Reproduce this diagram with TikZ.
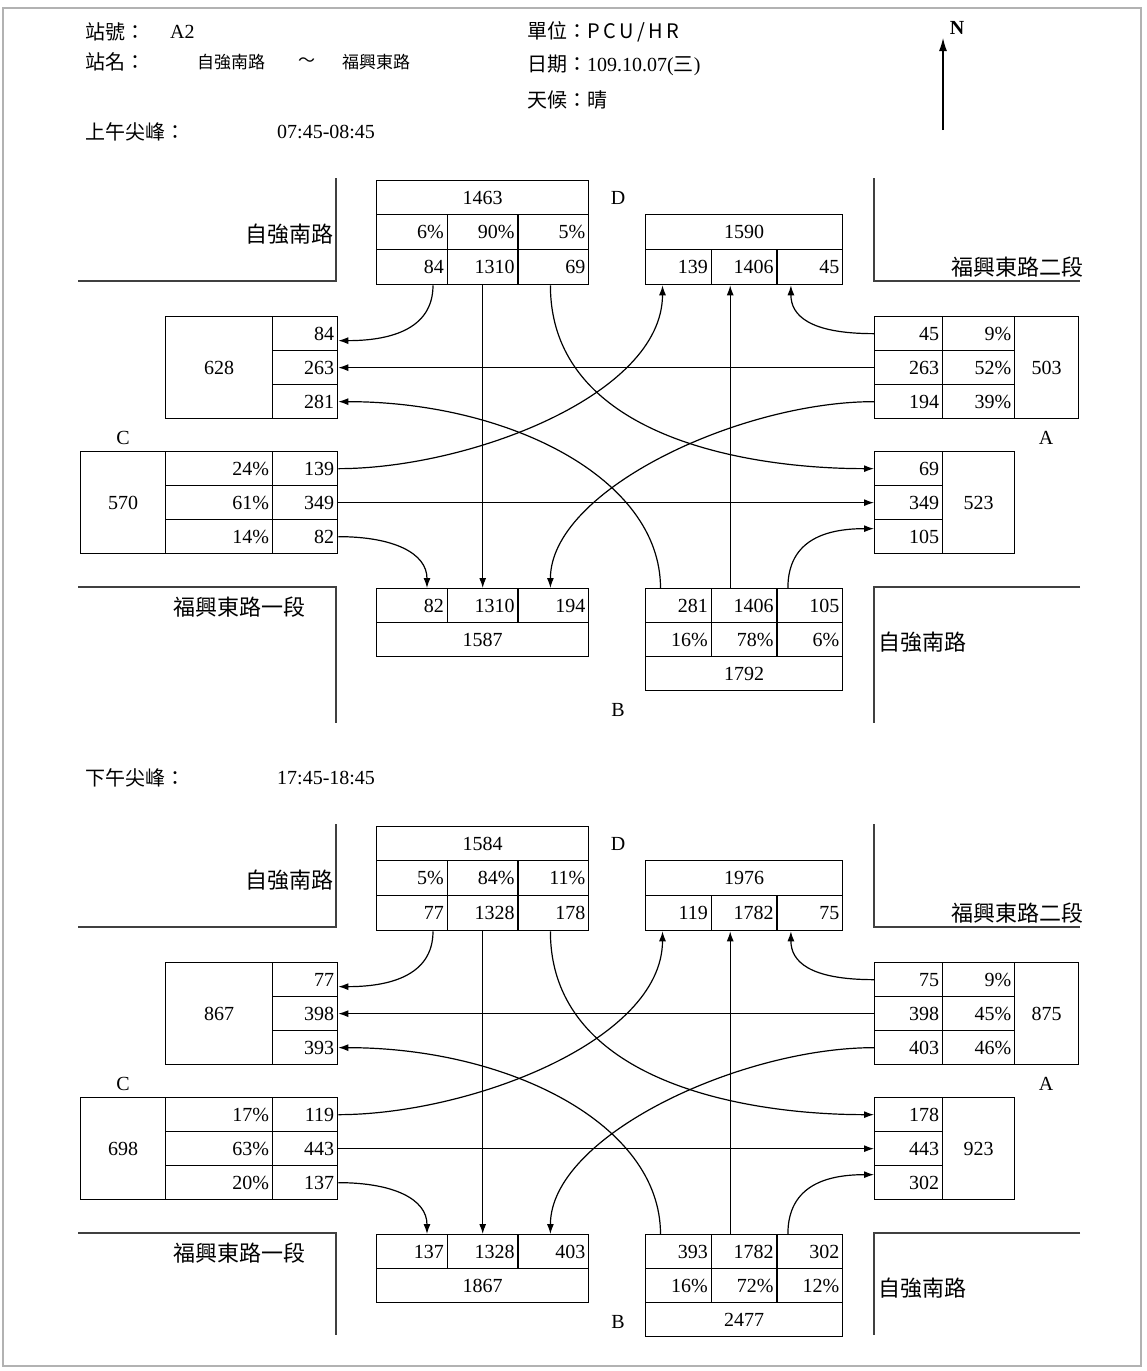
\documentclass[tikz,border=0pt]{standalone}
\usepackage{fontspec}
\setmainfont{Liberation Serif}
\newfontfamily\cjk{Noto Sans CJK TC}
\usetikzlibrary{arrows.meta,positioning}

\newcommand{\num}{\rmfamily\fontsize{20}{24}\selectfont}
\newcommand{\roadfont}{\cjk\fontsize{22}{26}\selectfont}
\newcommand{\headfont}{\cjk\fontsize{20}{24}\selectfont}
\newcommand{\smallcjk}{\cjk\fontsize{17}{20}\selectfont}

\tikzset{
  cell/.code 2 args={%
    \pgfmathsetmacro\cellw{#1-7}%
    \tikzset{draw, line width=1.3pt, inner sep=0pt, anchor=north west,
      minimum width=#1pt, minimum height=#2pt, text width=\cellw pt,
      align=right, font=\num}},
  tot/.style={align=center},
  flow/.style={line width=1.2pt, -{Latex[length=10pt,width=7pt]}},
  road/.style={line width=1.8pt, black!75},
  dir/.style={font=\num},
  head/.style={anchor=west, inner sep=0pt, font=\headfont},
}

% roads, approach letters and turning flows (same for both peaks)
% #1 = lower end of the south road lines, #2 = y of the B letter
\newcommand{\junctionlayout}[2]{%
  \draw[road] (336,178) -- (336,281) -- (78,281);
  \draw[road] (874,178) -- (874,281) -- (1080,281);
  \draw[road] (78,587) -- (336,587) -- (336,#1);
  \draw[road] (1080,587) -- (874,587) -- (874,#1);
  \node[font=\roadfont, anchor=east, inner sep=0pt] (rdn) at (334,234) {自強南路};
  \node[font=\roadfont, anchor=east, inner sep=0pt] (rde) at (1084,267) {福興東路二段};
  \node[font=\roadfont, anchor=east, inner sep=0pt] (rdw) at (306,607) {福興東路一段};
  \node[font=\roadfont, anchor=west, inner sep=0pt] (rds) at (878,642) {自強南路};
  \node[dir] (lD) at (618,198) {D};
  \node[dir] (lA) at (1046,438) {A};
  \node[dir] (lC) at (123,438) {C};
  \node[dir] (lB) at (618,#2) {B};
  % flows
  \draw[flow] ([xshift=21pt]dv1.south) .. controls +(0,45) and +(50,0) .. ([yshift=-7pt]wv1.east);
  \draw[flow] (dv2.south) -- (sv2.north);
  \draw[flow] ([xshift=-3pt]dv3.south) .. controls +(0,150) and +(-130,0) .. (ev1.west);
  \draw[flow] (av1.west) .. controls +(-65,0) and +(0,30) .. ([xshift=-19pt]nv3.south);
  \draw[flow] (av2.west) -- (wv2.east);
  \draw[flow] (av3.west) .. controls +(-134,0) and +(0,-98) .. ([xshift=-3pt]sv3.north);
  \draw[flow] (cv1.east) .. controls +(130,0) and +(0,110) .. ([xshift=-16pt]nv1.south);
  \draw[flow] (cv2.east) -- (ev2.west);
  \draw[flow] (cv3.east) .. controls +(55,0) and +(0,-35) .. ([xshift=15pt]sv1.north);
  \draw[flow] ([xshift=-18pt]bv1.north) .. controls +(0,-110) and +(170,0) .. (wv3.east);
  \draw[flow] ([xshift=-14pt]bv2.north) -- ([xshift=-14pt]nv2.south);
  \draw[flow] ([xshift=-22pt]bv3.north) .. controls +(0,-50) and +(-45,0) .. ([yshift=8pt]ev3.west);
}

\begin{document}
\begin{tikzpicture}[x=1pt, y=-1pt]
  \useasboundingbox (0,0) rectangle (1147,1371);
  \draw[gray!60, line width=1.5pt] (3,8) rectangle (1141,1366);

  % header
  \node[head] (stnno) at (85,32) {站號：};
  \node[anchor=west, inner sep=0pt, font=\num] (stnid) at (170,32) {A2};
  \node[head] (stnname) at (85,62) {站名：};
  \node[anchor=west, inner sep=0pt, font=\smallcjk] (rd1) at (197,62) {自強南路};
  \node[anchor=west, inner sep=0pt, font=\smallcjk] (tilde) at (298,62) {～};
  \node[anchor=west, inner sep=0pt, font=\smallcjk] (rd2) at (342,62) {福興東路};
  \node[head] (unit) at (527,32) {單位：P\,C\,U\,/\,H\,R};
  \node[head] (date) at (527,65) {日期：\num 109.10.07(\headfont 三\num )};
  \node[head] (weather) at (527,100) {天候：晴};
  \coordinate (nfoot) at (943,130);
  \coordinate (nhead) at (943,38);
  \draw[line width=1.2pt, -{Latex[length=13pt,width=8pt]}] (nfoot) -- (nhead);
  \node[font=\num\bfseries] (north) at (957,28) {N};

  \node[head] (amtitle) at (85,132) {上午尖峰：};
  \node[anchor=west, inner sep=0pt, font=\num] (amtime) at (277,132) {07:45-08:45};
  \node[head] (pmtitle) at (85,778) {下午尖峰：};
  \node[anchor=west, inner sep=0pt, font=\num] (pmtime) at (277,778) {17:45-18:45};

  % morning peak
  \begin{scope}[name prefix=am-]
    \node[cell={212}{34}, tot] (dtot) at (376,180) {1463};
    \foreach \p/\v [count=\k] in {6\%/84, 90\%/1310, 5\%/69} {
      \node[cell={70.7}{35}] (dp\k) at ({376+70.7*(\k-1)},214) {\p};
      \node[cell={70.7}{35}] (dv\k) at ({376+70.7*(\k-1)},249) {\v};
    }
    \node[cell={197}{35}, tot] (ntot) at (645,214) {1590};
    \foreach \v [count=\k] in {139, 1406, 45}
      \node[cell={65.7}{35}] (nv\k) at ({645+65.7*(\k-1)},249) {\v};
    \node[cell={107}{102}, tot] (wtot) at (165,316) {628};
    \foreach \v [count=\k] in {84, 263, 281}
      \node[cell={65}{34}] (wv\k) at (272,{316+34*(\k-1)}) {\v};
    \foreach \v/\p [count=\k] in {45/9\%, 263/52\%, 194/39\%} {
      \node[cell={68}{34}] (av\k) at (874,{316+34*(\k-1)}) {\v};
      \node[cell={72}{34}] (ap\k) at (942,{316+34*(\k-1)}) {\p};
    }
    \node[cell={64}{102}, tot] (atot) at (1014,316) {503};
    \node[cell={85}{102}, tot] (ctot) at (80,451) {570};
    \foreach \p/\v [count=\k] in {24\%/139, 61\%/349, 14\%/82} {
      \node[cell={107}{34}] (cp\k) at (165,{451+34*(\k-1)}) {\p};
      \node[cell={65}{34}] (cv\k) at (272,{451+34*(\k-1)}) {\v};
    }
    \foreach \v [count=\k] in {69, 349, 105}
      \node[cell={68}{34}] (ev\k) at (874,{451+34*(\k-1)}) {\v};
    \node[cell={72}{102}, tot] (etot) at (942,451) {523};
    \foreach \v [count=\k] in {82, 1310, 194}
      \node[cell={70.7}{34}] (sv\k) at ({376+70.7*(\k-1)},588) {\v};
    \node[cell={212}{34}, tot] (stot) at (376,622) {1587};
    \foreach \v/\p [count=\k] in {281/16\%, 1406/78\%, 105/6\%} {
      \node[cell={65.7}{34}] (bv\k) at ({645+65.7*(\k-1)},588) {\v};
      \node[cell={65.7}{34}] (bp\k) at ({645+65.7*(\k-1)},622) {\p};
    }
    \node[cell={197}{34}, tot] (btot) at (645,656) {1792};
    \junctionlayout{723}{710}
  \end{scope}

  % evening peak
  \begin{scope}[yshift=-646pt, name prefix=pm-]
    \node[cell={212}{34}, tot] (dtot) at (376,180) {1584};
    \foreach \p/\v [count=\k] in {5\%/77, 84\%/1328, 11\%/178} {
      \node[cell={70.7}{35}] (dp\k) at ({376+70.7*(\k-1)},214) {\p};
      \node[cell={70.7}{35}] (dv\k) at ({376+70.7*(\k-1)},249) {\v};
    }
    \node[cell={197}{35}, tot] (ntot) at (645,214) {1976};
    \foreach \v [count=\k] in {119, 1782, 75}
      \node[cell={65.7}{35}] (nv\k) at ({645+65.7*(\k-1)},249) {\v};
    \node[cell={107}{102}, tot] (wtot) at (165,316) {867};
    \foreach \v [count=\k] in {77, 398, 393}
      \node[cell={65}{34}] (wv\k) at (272,{316+34*(\k-1)}) {\v};
    \foreach \v/\p [count=\k] in {75/9\%, 398/45\%, 403/46\%} {
      \node[cell={68}{34}] (av\k) at (874,{316+34*(\k-1)}) {\v};
      \node[cell={72}{34}] (ap\k) at (942,{316+34*(\k-1)}) {\p};
    }
    \node[cell={64}{102}, tot] (atot) at (1014,316) {875};
    \node[cell={85}{102}, tot] (ctot) at (80,451) {698};
    \foreach \p/\v [count=\k] in {17\%/119, 63\%/443, 20\%/137} {
      \node[cell={107}{34}] (cp\k) at (165,{451+34*(\k-1)}) {\p};
      \node[cell={65}{34}] (cv\k) at (272,{451+34*(\k-1)}) {\v};
    }
    \foreach \v [count=\k] in {178, 443, 302}
      \node[cell={68}{34}] (ev\k) at (874,{451+34*(\k-1)}) {\v};
    \node[cell={72}{102}, tot] (etot) at (942,451) {923};
    \foreach \v [count=\k] in {137, 1328, 403}
      \node[cell={70.7}{34}] (sv\k) at ({376+70.7*(\k-1)},588) {\v};
    \node[cell={212}{34}, tot] (stot) at (376,622) {1867};
    \foreach \v/\p [count=\k] in {393/16\%, 1782/72\%, 302/12\%} {
      \node[cell={65.7}{34}] (bv\k) at ({645+65.7*(\k-1)},588) {\v};
      \node[cell={65.7}{34}] (bp\k) at ({645+65.7*(\k-1)},622) {\p};
    }
    \node[cell={197}{34}, tot] (btot) at (645,656) {2477};
    \junctionlayout{689}{676}
  \end{scope}
\end{tikzpicture}
\end{document}
